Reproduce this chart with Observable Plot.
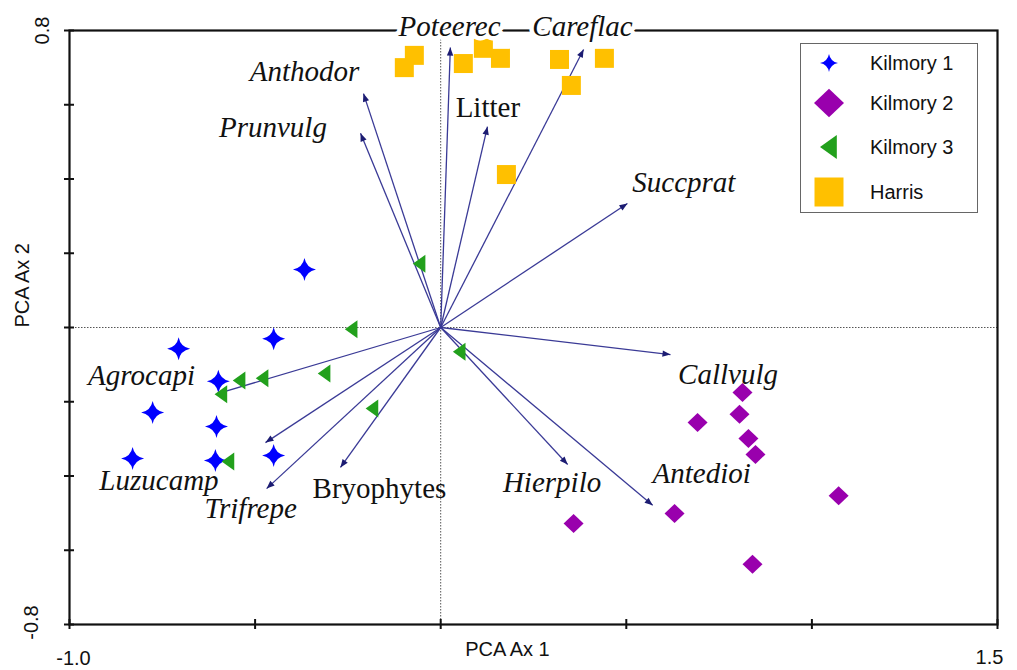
<!DOCTYPE html>
<html><head><meta charset="utf-8">
<script src="https://cdn.jsdelivr.net/npm/d3@7"></script>
<script src="https://cdn.jsdelivr.net/npm/@observablehq/plot@0.6"></script>
<style>
body{margin:0;background:#fff}
#wrap{position:relative;width:1017px;height:670px}
#legend{position:absolute;left:800px;top:43px;width:176px;height:168px;border:1.5px solid #666;background:#fff;font-family:"Liberation Sans",Arial,sans-serif;font-size:20px;color:#111}
#legend .row{position:absolute;left:0;height:30px;display:flex;align-items:center}
#legend svg{width:56px;height:34px}
</style></head><body><div id="wrap"></div>
<script>
// ---- species arrows (biplot loadings) ----
const species = ["Anthodor","Prunvulg","Poteerec","Litter","Careflac","Succprat","Callvulg","Antedioi","Hierpilo","Bryophytes","Trifrepe","Luzucamp","Agrocapi"];
const arrowX = [-0.208,-0.216,0.026,0.126,0.385,0.503,0.619,0.571,0.342,-0.270,-0.469,-0.472,-0.601];
const arrowY = [0.630,0.523,0.754,0.541,0.749,0.334,-0.073,-0.479,-0.369,-0.377,-0.434,-0.310,-0.178];
// label anchor (centre, baseline) in data units
const labelX = [-0.367,-0.452,0.024,0.127,0.382,0.655,0.774,0.703,0.300,-0.165,-0.512,-0.759,-0.806];
const labelY = [0.665,0.514,0.784,0.566,0.784,0.364,-0.151,-0.420,-0.444,-0.458,-0.514,-0.439,-0.156];
const italic = [true,true,true,false,true,true,true,true,true,false,true,true,true];
const onTopEdge = [false,false,true,false,true,false,false,false,false,false,false,false,false];

// ---- site scores ----
const groups = ["Kilmory 1","Kilmory 2","Kilmory 3","Harris"];
const k1X = [-0.367,-0.706,-0.450,-0.599,-0.776,-0.604,-0.830,-0.607,-0.450];
const k1Y = [0.156,-0.057,-0.030,-0.145,-0.229,-0.267,-0.353,-0.358,-0.345];
const k2X = [0.813,0.692,0.805,0.829,0.848,1.072,0.358,0.630,0.840];
const k2Y = [-0.175,-0.256,-0.234,-0.299,-0.342,-0.453,-0.528,-0.501,-0.638];
const k3X = [-0.057,-0.240,0.051,-0.313,-0.480,-0.542,-0.591,-0.184,-0.572];
const k3Y = [0.172,-0.005,-0.065,-0.124,-0.137,-0.143,-0.180,-0.218,-0.361];
const hX = [-0.098,-0.071,0.061,0.115,0.161,0.320,0.352,0.441,0.177];
const hY = [0.700,0.733,0.711,0.752,0.725,0.722,0.652,0.725,0.412];

// ---- axes ----
const xTicks = [-1.0,-0.5,0,0.5,1.0,1.5];
const yTicks = [-0.8,-0.6,-0.4,-0.2,0,0.2,0.4,0.6,0.8];
const xTickLabels = ["-1.0","1.5"];
const yTickLabels = ["0.8","-0.8"];
const xTitle = "PCA Ax 1";
const yTitle = "PCA Ax 2";

const colors = {"Kilmory 1":"#0000ff","Kilmory 2":"#9900ad","Kilmory 3":"#22a01c","Harris":"#ffc000"};

// custom symbols
const star4 = {draw(c, size){const R=Math.sqrt(size/Math.PI), k=0.16*R;
  c.moveTo(0,-R); c.quadraticCurveTo(k,-k,R,0); c.quadraticCurveTo(k,k,0,R);
  c.quadraticCurveTo(-k,k,-R,0); c.quadraticCurveTo(-k,-k,0,-R); c.closePath();}};
const triLeft = {draw(c, size){const r=Math.sqrt(size/Math.PI);
  c.moveTo(-0.75*r,0); c.lineTo(0.65*r,-r); c.lineTo(0.65*r,r); c.closePath();}};
const diamond = {draw(c, size){const r=Math.sqrt(size/Math.PI);
  c.moveTo(0,-0.95*r); c.lineTo(r,0); c.lineTo(0,0.95*r); c.lineTo(-r,0); c.closePath();}};
const square = {draw(c, size){const r=Math.sqrt(size/Math.PI); c.rect(-r,-r,2*r,2*r);}};
const head = {draw(c, size){const r=Math.sqrt(size/Math.PI);
  c.moveTo(0,0); c.lineTo(-0.4*r,r); c.lineTo(0.4*r,r); c.closePath();}};

const symbols = {"Kilmory 1":star4,"Kilmory 2":diamond,"Kilmory 3":triLeft,"Harris":square};
const radii = {"Kilmory 1":11.5,"Kilmory 2":10,"Kilmory 3":9,"Harris":9.5};

const arrows = species.map((s,i)=>({s, x:arrowX[i], y:arrowY[i], lx:labelX[i], ly:labelY[i], it:italic[i], top:onTopEdge[i]}));
const sites = [
  ...k1X.map((x,i)=>({g:"Kilmory 1",x,y:k1Y[i]})),
  ...k3X.map((x,i)=>({g:"Kilmory 3",x,y:k3Y[i]})),
  ...k2X.map((x,i)=>({g:"Kilmory 2",x,y:k2Y[i]})),
  ...hX.map((x,i)=>({g:"Harris",x,y:hY[i]}))
];

const W=1017,H=670, mL=69, mR=20, mT=30, mB=46;
const pxPerUnit = (W-mL-mR)/2.5;
const tk = 5/pxPerUnit;

const serif = "'Liberation Serif','Times New Roman',serif";
const sans = "'Liberation Sans',Arial,sans-serif";
const labelStyle = {x:"lx",y:"ly",text:"s",lineAnchor:"bottom",textAnchor:"middle",fontSize:29,fontFamily:serif,fill:"#111"};

const plot = Plot.plot({
  width:W, height:H, marginLeft:mL, marginRight:mR, marginTop:mT, marginBottom:mB,
  x:{domain:[-1,1.5], axis:null},
  y:{domain:[-0.8,0.8], axis:null},
  style:{background:"#fff", overflow:"visible"},
  marks:[
    Plot.ruleX([0],{stroke:"#555",strokeWidth:1,strokeDasharray:"1.5,1.5"}),
    Plot.ruleY([0],{stroke:"#555",strokeWidth:1,strokeDasharray:"1.5,1.5"}),
    Plot.link(arrows,{x1:0,y1:0,x2:"x",y2:"y",stroke:"#3a3a96",strokeWidth:1.3}),
    Plot.dot(arrows,{x:"x",y:"y",symbol:head,r:8,fill:"#1c1c72",stroke:"none",rotate:d=>Math.atan2(d.x,d.y)*180/Math.PI}),
    ...groups.map(g=>Plot.dot(sites.filter(d=>d.g===g),{x:"x",y:"y",symbol:symbols[g],r:radii[g],fill:colors[g],stroke:"none"})),
    Plot.frame({stroke:"#111",strokeWidth:2.2}),
    Plot.ruleY(yTicks,{y:d=>d,x1:-1-tk,x2:-1+tk,stroke:"#111",strokeWidth:2}),
    Plot.ruleX(xTicks,{x:d=>d,y1:-0.8-tk,y2:-0.8+tk,stroke:"#111",strokeWidth:2}),
    Plot.text(arrows.filter(d=>d.top),{...labelStyle,fontStyle:"italic",stroke:"#fff",strokeWidth:9,strokeLinejoin:"round",paintOrder:"stroke"}),
    Plot.text(arrows.filter(d=>!d.top && d.it),{...labelStyle,fontStyle:"italic"}),
    Plot.text(arrows.filter(d=>!d.it),{...labelStyle,fontStyle:"normal"}),
    Plot.text([xTickLabels[0]],{x:-1,y:-0.8,dy:34,dx:4,text:d=>d,fontSize:20,fontFamily:sans,fill:"#111"}),
    Plot.text([xTickLabels[1]],{x:1.5,y:-0.8,dy:33,dx:-8,text:d=>d,fontSize:20,fontFamily:sans,fill:"#111"}),
    Plot.text([yTickLabels[0]],{x:-1,y:0.8,dx:-27,rotate:-90,text:d=>d,fontSize:20,fontFamily:sans,fill:"#111"}),
    Plot.text([yTickLabels[1]],{x:-1,y:-0.8,dx:-38,dy:-2,rotate:-90,text:d=>d,fontSize:20,fontFamily:sans,fill:"#111"}),
    Plot.text([xTitle],{frameAnchor:"bottom",dy:31,dx:-26,text:d=>d,fontSize:20,fontFamily:sans,fill:"#111"}),
    Plot.text([yTitle],{frameAnchor:"left",dx:-47,rotate:-90,text:d=>d,fontSize:20,fontFamily:sans,fill:"#111"})
  ]
});
const wrap = document.getElementById("wrap");
wrap.appendChild(plot);

// legend
const legend = document.createElement("div");
legend.id = "legend";
const legendRadii = {"Kilmory 1":9,"Kilmory 2":15,"Kilmory 3":12,"Harris":14.5};
const rowY = [19,59,103,148];
groups.forEach((g,i)=>{
  const row = document.createElement("div");
  row.className = "row";
  row.style.top = (rowY[i]-17)+"px";
  row.style.height = "34px";
  const svg = d3.create("svg").attr("viewBox","-28 -17 56 34");
  const r = legendRadii[g];
  svg.append("path").attr("d", d3.symbol(symbols[g], Math.PI*r*r)()).attr("fill", colors[g]);
  row.appendChild(svg.node());
  const t = document.createElement("span");
  t.textContent = g;
  t.style.marginLeft = "13px";
  row.appendChild(t);
  legend.appendChild(row);
});
wrap.appendChild(legend);
</script></body></html>
